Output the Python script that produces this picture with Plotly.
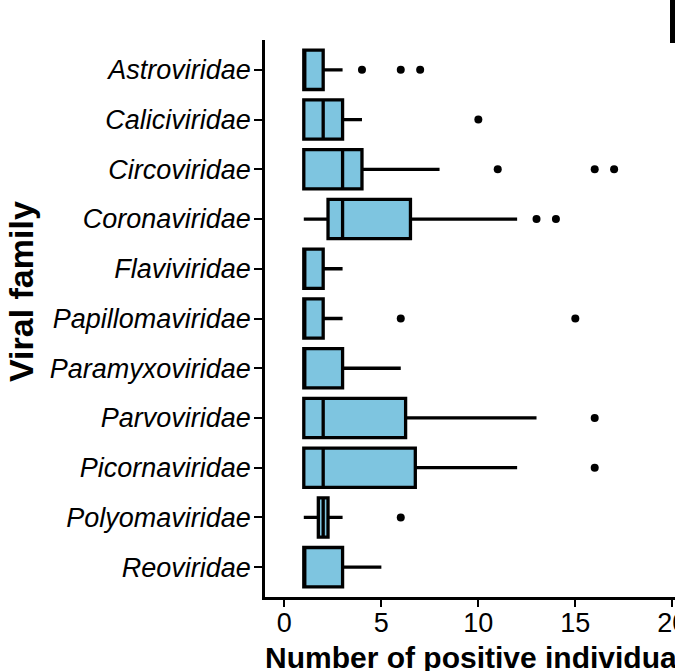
import plotly.graph_objects as go

families = ["Astroviridae", "Caliciviridae", "Circoviridae", "Coronaviridae",
            "Flaviviridae", "Papillomaviridae", "Paramyxoviridae", "Parvoviridae",
            "Picornaviridae", "Polyomaviridae", "Reoviridae"]
lower = [1, 1, 1, 1, 1, 1, 1, 1, 1, 1, 1]
q1 = [1, 1, 1, 2.25, 1, 1, 1, 1, 1, 1.75, 1]
median = [1, 2, 3, 3, 1, 1, 1, 2, 2, 2, 1]
q3 = [2, 3, 4, 6.5, 2, 2, 3, 6.25, 6.75, 2.25, 3]
upper = [3, 4, 8, 12, 3, 3, 6, 13, 12, 3, 5]

outlier_family = ["Astroviridae", "Astroviridae", "Astroviridae",
                  "Caliciviridae",
                  "Circoviridae", "Circoviridae", "Circoviridae",
                  "Coronaviridae", "Coronaviridae",
                  "Papillomaviridae", "Papillomaviridae",
                  "Parvoviridae", "Picornaviridae", "Polyomaviridae"]
outlier_value = [4, 6, 7, 10, 11, 16, 17, 13, 14, 6, 15, 16, 16, 6]

x_ticks = [0, 5, 10, 15, 20]

W, H = 675, 671
L, R, T, B = 265, 0, 40, 74

fig = go.Figure()
fig.add_trace(go.Box(
    y=families, orientation="h",
    q1=q1, median=median, q3=q3, lowerfence=lower, upperfence=upper,
    fillcolor="#7ec5e0", line=dict(color="black", width=3.3),
    whiskerwidth=0, width=0.79, boxpoints=False, showlegend=False,
))
fig.add_trace(go.Scatter(
    x=outlier_value, y=outlier_family, mode="markers",
    marker=dict(color="black", size=8), showlegend=False,
))

font_family = "Liberation Sans, Arial, sans-serif"
fig.update_layout(
    width=W, height=H, autosize=False,
    margin=dict(l=L, r=R, t=T, b=B, pad=0, autoexpand=False),
    paper_bgcolor="white", plot_bgcolor="white",
    font=dict(family=font_family, color="black"),
    xaxis=dict(
        range=[-1, 20.14], tickvals=x_ticks, ticktext=[str(v) for v in x_ticks],
        showline=True, linecolor="black", linewidth=2.5, showgrid=False, zeroline=False,
        ticks="outside", ticklen=7, tickwidth=2, tickcolor="black",
        tickfont=dict(size=27, family=font_family), ticklabelstandoff=-7,
        ticklabeloverflow="allow", automargin=False,
    ),
    yaxis=dict(
        type="category", categoryorder="array", categoryarray=families,
        range=[10.6, -0.6],
        showline=True, linecolor="black", linewidth=2.5, showgrid=False, zeroline=False,
        ticks="outside", ticklen=8, tickwidth=2, tickcolor="black",
        tickfont=dict(size=27, family=font_family, style="italic"), ticklabelstandoff=-2,
        automargin=False,
    ),
    annotations=[
        dict(text="<b>Number of positive individuals</b>", xref="paper", yref="paper",
             x=(483 - L) / (W - L - R), y=(H - B - 657) / (H - T - B),
             xanchor="center", yanchor="middle", showarrow=False,
             font=dict(size=30, family=font_family, color="black")),
        dict(text="<b>Viral family</b>", xref="paper", yref="paper",
             x=(21 - L) / (W - L - R), y=(H - B - 292) / (H - T - B),
             xanchor="center", yanchor="middle", showarrow=False, textangle=-90,
             font=dict(size=34, family=font_family, color="black")),
    ],
    shapes=[
        dict(type="rect", xref="paper", yref="paper",
             x0=(670 - L) / (W - L - R), x1=1.0,
             y0=(H - B - 43) / (H - T - B), y1=(H - B + 0) / (H - T - B),
             fillcolor="black", line=dict(width=0)),
    ],
)

fig.write_html(
    "out.html",
    config={"displayModeBar": False},
    post_script="document.body.style.margin='0';document.body.style.overflow='hidden';",
)
